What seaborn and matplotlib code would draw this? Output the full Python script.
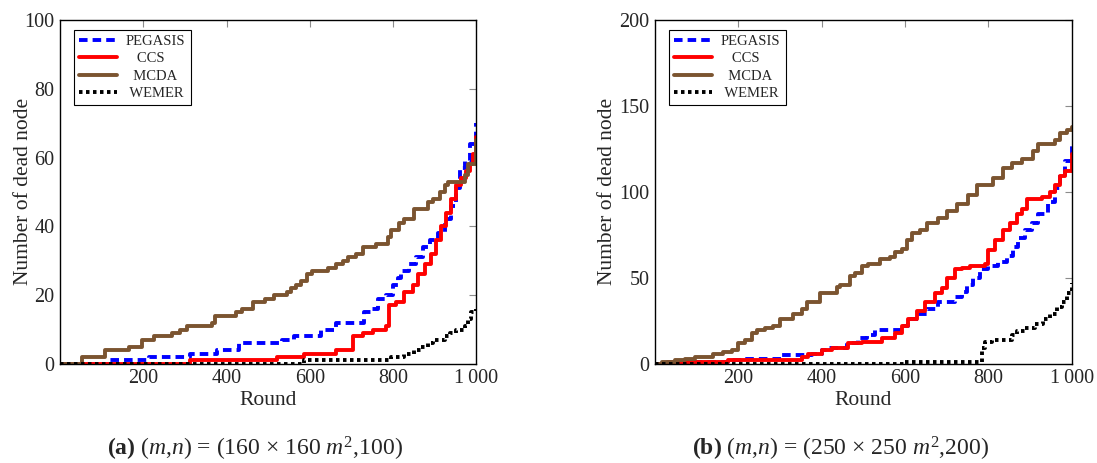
import numpy as np
import pandas as pd
import matplotlib
matplotlib.use("Agg")
import matplotlib.pyplot as plt
import seaborn as sns

# step breakpoints (round, number of dead nodes)
PEG_A_X = [0, 120, 213, 313, 378, 430, 534, 562, 627, 663, 731, 747, 763, 783, 799, 811, 819, 839, 855, 871,
           888, 908, 924, 940, 952, 960, 972, 984, 1000]
PEG_A_Y = [0, 1, 2, 3, 4, 6, 7, 8, 10, 12, 15, 16, 19, 20, 23, 25, 27, 29, 31, 34,
           36, 38, 42, 46, 51, 57, 59, 64, 70]
CCS_A_X = [0, 313, 522, 586, 663, 703, 727, 751, 783, 791, 807, 827, 847, 859, 876, 892, 904, 916, 928, 940,
           952, 964, 976, 984, 992, 1000]
CCS_A_Y = [0, 1, 2, 3, 4, 8, 9, 10, 11, 17, 18, 21, 23, 26, 29, 32, 36, 40, 44, 48,
           52, 54, 56, 58, 61, 66]
MCDA_A_X = [0, 52, 108, 165, 197, 225, 269, 288, 305, 365, 373, 422, 438, 464, 492, 514, 546, 554, 566, 578,
            594, 606, 643, 663, 679, 691, 711, 727, 759, 787, 795, 815, 827, 851, 884, 896, 912, 924, 932, 972,
            980, 1000]
MCDA_A_Y = [0, 2, 4, 5, 7, 8, 9, 10, 11, 12, 14, 15, 16, 18, 19, 20, 21, 22, 23, 24,
            26, 27, 28, 29, 30, 31, 32, 34, 35, 37, 39, 41, 42, 45, 47, 48, 50, 52, 53, 55,
            58, 65]
WEM_A_X = [0, 586, 795, 827, 851, 867, 884, 896, 924, 936, 952, 972, 980, 988, 1000]
WEM_A_Y = [0, 1, 2, 3, 4, 5, 6, 7, 8, 9, 10, 11, 13, 15, 16]

PEG_B_X = [0, 20, 176, 208, 304, 376, 400, 416, 460, 488, 508, 528, 592, 608, 632, 652, 680, 720, 736, 748,
           764, 780, 800, 824, 844, 860, 872, 888, 904, 920, 944, 960, 972, 984, 1000]
PEG_B_Y = [0, 1, 2, 3, 5, 6, 8, 9, 12, 15, 17, 20, 22, 26, 29, 32, 36, 39, 42, 46,
           50, 55, 57, 59, 63, 68, 73, 78, 82, 87, 94, 102, 110, 118, 128]
CCS_B_X = [0, 32, 176, 352, 368, 400, 424, 464, 496, 544, 576, 592, 608, 628, 648, 672, 688, 700, 720, 736,
           756, 792, 800, 816, 836, 852, 868, 880, 892, 928, 948, 960, 972, 984, 1000]
CCS_B_Y = [0, 1, 2, 4, 6, 8, 9, 12, 13, 15, 18, 22, 26, 31, 36, 41, 44, 50, 55, 56,
           57, 58, 66, 72, 78, 82, 87, 90, 96, 97, 100, 104, 109, 112, 122]
MCDA_B_X = [0, 16, 48, 72, 96, 140, 164, 184, 200, 216, 232, 244, 264, 284, 300, 332, 352, 364, 396, 436,
            444, 468, 480, 496, 512, 540, 564, 576, 592, 604, 616, 636, 652, 680, 700, 724, 752, 772, 812, 836,
            856, 880, 908, 920, 960, 972, 988, 1000]
MCDA_B_Y = [0, 1, 2, 3, 4, 6, 7, 8, 12, 14, 18, 20, 21, 22, 26, 29, 32, 36, 41, 45,
            46, 51, 53, 57, 58, 61, 62, 65, 67, 72, 76, 78, 82, 85, 89, 93, 98, 104, 108, 114,
            117, 119, 124, 128, 130, 134, 136, 138]
WEM_B_X = [0, 600, 784, 792, 808, 856, 868, 888, 912, 932, 948, 964, 976, 988, 1000]
WEM_B_Y = [0, 1, 9, 13, 14, 17, 19, 21, 23, 26, 29, 33, 36, 41, 47]

methods = ["PEGASIS", "CCS", "MCDA", "WEMER"]
x_ticks = [200, 400, 600, 800, 1000]
x_tick_labels = ["200", "400", "600", "800", "1\u2009000"]

colors = {"PEGASIS": "#0000ff", "CCS": "#ff0000", "MCDA": "#7b5430", "WEMER": "#000000"}
dashes = {"PEGASIS": (2.2, 1.3), "CCS": "", "MCDA": "", "WEMER": (0.9, 0.9)}

sns.set_style("white")
plt.rcParams["font.family"] = ["Liberation Serif", "DejaVu Serif"]
plt.rcParams["mathtext.fontset"] = "custom"
plt.rcParams["mathtext.rm"] = "Liberation Serif"
plt.rcParams["mathtext.it"] = "Liberation Serif:italic"
plt.rcParams["mathtext.bf"] = "Liberation Serif:bold"


def make_frame(series):
    rows = []
    for name, xs, ys in series:
        for x, y in zip(xs, ys):
            rows.append({"Round": x, "dead": y, "method": name})
    return pd.DataFrame(rows)


panels = [
    (make_frame([("PEGASIS", PEG_A_X, PEG_A_Y), ("CCS", CCS_A_X, CCS_A_Y),
                 ("MCDA", MCDA_A_X, MCDA_A_Y), ("WEMER", WEM_A_X, WEM_A_Y)]),
     100, [0, 20, 40, 60, 80, 100],
     r"$\mathbf{(a)}$ $(m$,$n)$ = (160 $\times$ 160 $m^{2}$,100)", -0.066, 0.2325),
    (make_frame([("PEGASIS", PEG_B_X, PEG_B_Y), ("CCS", CCS_B_X, CCS_B_Y),
                 ("MCDA", MCDA_B_X, MCDA_B_Y), ("WEMER", WEM_B_X, WEM_B_Y)]),
     200, [0, 50, 100, 150, 200],
     r"$\mathbf{(b)}$ $(m$,$n)$ = (250 $\times$ 250 $m^{2}$,200)", -0.09, 0.766),
]

fig = plt.figure(figsize=(10.97, 4.63), dpi=100)
boxes = [[0.0547, 0.214, 0.3795, 0.743], [0.597, 0.214, 0.380, 0.743]]

for box, (df, ymax, yticks, caption, ylab_x, cap_x) in zip(boxes, panels):
    ax = fig.add_axes(box)
    sns.lineplot(data=df, x="Round", y="dead", hue="method", style="method",
                 hue_order=methods, style_order=methods, palette=colors, dashes=dashes,
                 estimator=None, sort=True, drawstyle="steps-post", lw=2.8,
                 legend=False, ax=ax)
    ax.set_xlim(0, 1000)
    ax.set_ylim(0, ymax)
    ax.set_xticks(x_ticks)
    ax.set_xticklabels(x_tick_labels)
    ax.set_yticks(yticks)
    ax.tick_params(direction="in", length=5, width=0.8, color="0.55", labelsize=14.5,
                   top=True, right=True, pad=4)
    for s in ax.spines.values():
        s.set_color("black")
        s.set_linewidth(1.0)
    ax.set_xlabel("Round", fontsize=15.5, labelpad=2)
    ax.set_ylabel("Number of dead node", fontsize=15.5)
    ax.yaxis.set_label_coords(ylab_x, 0.5)

    handles = ax.get_lines()[:4]
    leg = ax.legend(handles, ["PEGASIS", "   CCS", "  MCDA", " WEMER"], loc="upper left",
                    bbox_to_anchor=(0.034, 0.971), borderaxespad=0, fontsize=10.5, frameon=True,
                    fancybox=False, edgecolor="black", framealpha=1, borderpad=0.35,
                    labelspacing=0.28, handlelength=2.6, handletextpad=0.6)
    leg.get_frame().set_linewidth(0.8)

    fig.text(cap_x, 0.031, caption, ha="center", va="center", fontsize=17)

fig.savefig("out.png", dpi=100)
